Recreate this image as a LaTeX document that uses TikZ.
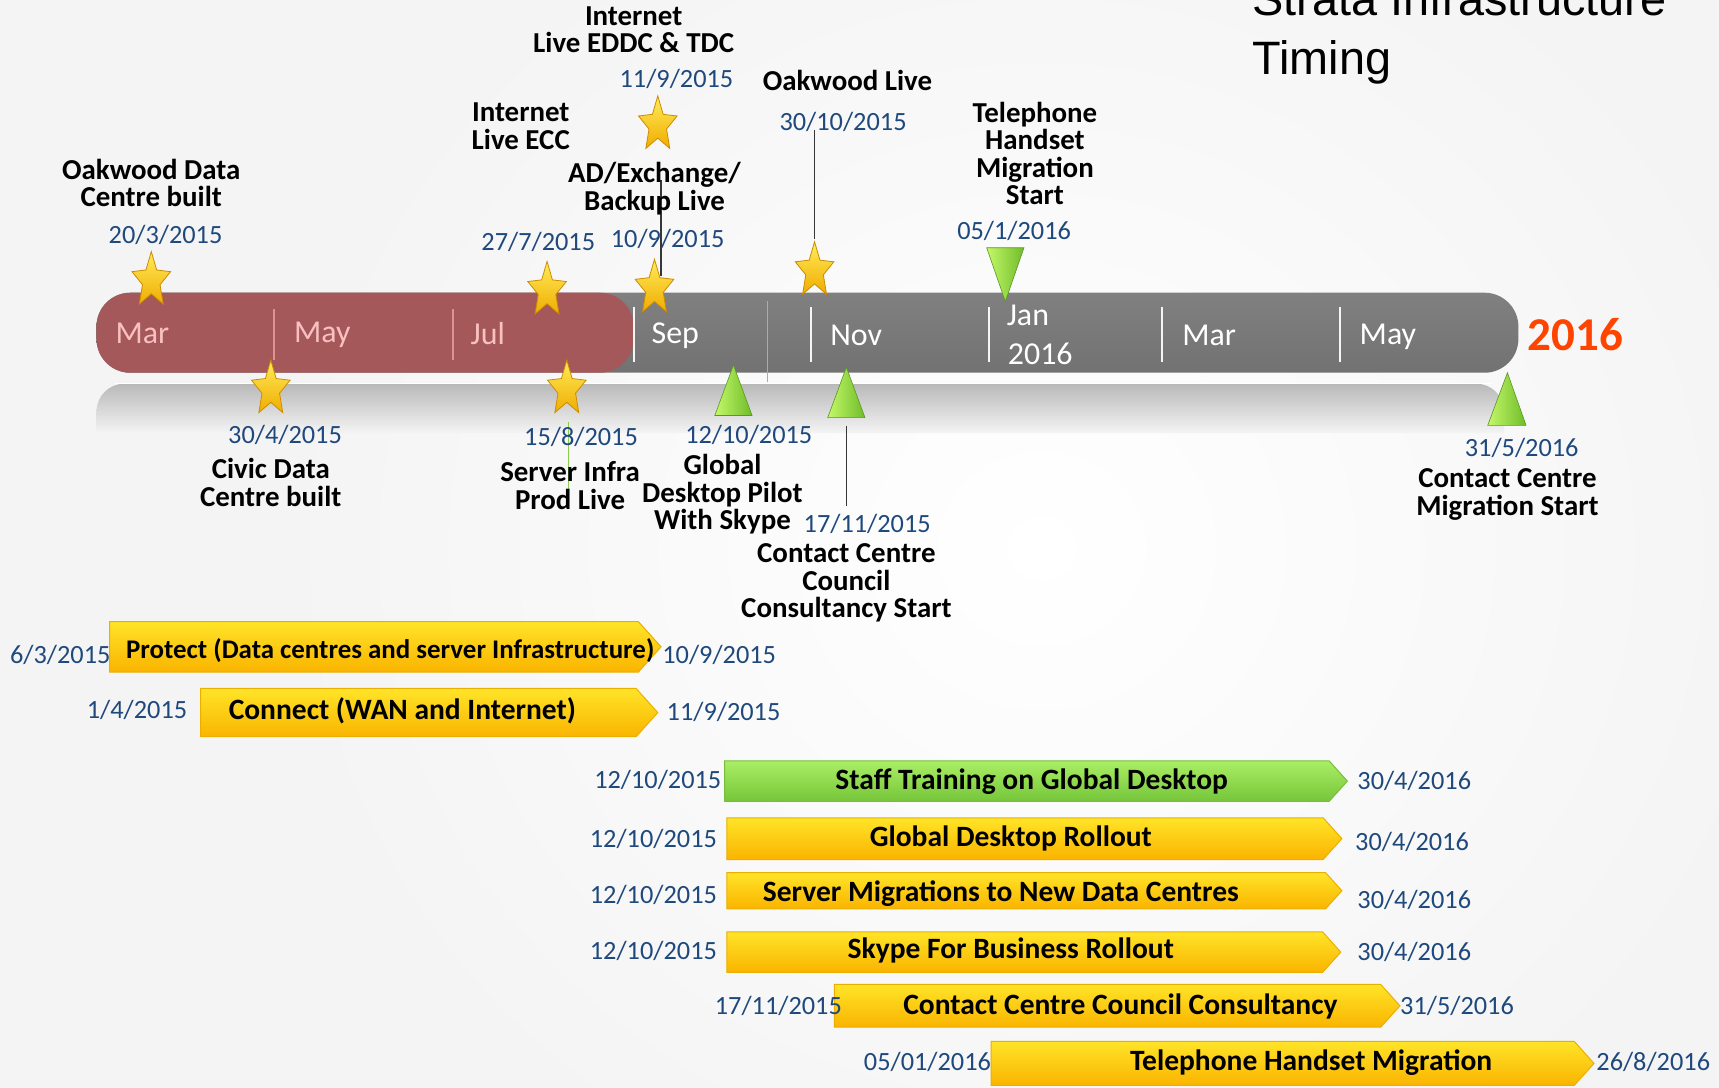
\documentclass[tikz,border=0pt]{standalone}
\usepackage{fontspec}
\setmainfont{Carlito}
\newfontfamily\titlefont{Liberation Sans}
\definecolor{datecol}{RGB}{31,73,125}
\definecolor{bgcol}{RGB}{244,244,244}
\definecolor{redbar}{RGB}{164,88,90}
\definecolor{graybarA}{RGB}{128,128,128}
\definecolor{graybarB}{RGB}{114,114,114}
\definecolor{pinktxt}{RGB}{250,192,192}
\definecolor{pinksep}{RGB}{222,146,146}
\definecolor{yearcol}{RGB}{255,68,0}
\definecolor{starA}{RGB}{255,236,90}
\definecolor{starB}{RGB}{240,172,0}
\definecolor{starE}{RGB}{205,140,0}
\definecolor{triA}{RGB}{195,248,105}
\definecolor{triB}{RGB}{112,188,42}
\definecolor{barYA}{RGB}{255,228,40}
\definecolor{barYB}{RGB}{250,180,0}
\definecolor{barYE}{RGB}{235,175,0}
\definecolor{barGA}{RGB}{170,238,100}
\definecolor{barGB}{RGB}{118,198,58}
\definecolor{barGE}{RGB}{120,190,60}
\definecolor{thinline}{RGB}{55,55,55}
\definecolor{thingreen}{RGB}{140,205,80}
\newcommand\tlbar[5]{%
  \path[#1] (#2,#4) -- ({#3-0.45*(#5-#4)},#4) -- (#3,{(#4+#5)/2}) -- ({#3-0.45*(#5-#4)},#5) -- (#2,#5) -- cycle;}
\tikzset{
  pics/gstar/.style={code={
    \coordinate (-c) at (0,0);
    \coordinate (-t) at (0,-26.5);
    \coordinate (-b) at (0,21.4);
    \shade[top color=starA, bottom color=starB, draw=starE, line width=0.4pt]
      (0,-26.5) -- (4.9,-9.7) -- (17.6,-8.2) -- (8.0,3.7) -- (10.9,21.4) -- (0,12.0)
      -- (-10.9,21.4) -- (-8.0,3.7) -- (-17.6,-8.2) -- (-4.9,-9.7) -- cycle;
  }}
}
\begin{document}
\begin{tikzpicture}[x=0.55pt,y=-0.55pt,
  lbl/.style={font=\bfseries\fontsize{14.5}{13.8}\selectfont, align=center, inner sep=0, text=black},
  dt/.style={font=\fontsize{13.2}{14}\selectfont, text=datecol, inner sep=0},
  mon/.style={font=\fontsize{16}{18}\selectfont, inner sep=0},
  bartxt/.style={font=\bfseries\fontsize{14.8}{16}\selectfont, inner sep=0, text=black},
  ybar/.style={top color=barYA, bottom color=barYB, draw=barYE, line width=0.5pt},
  gbar/.style={top color=barGA, bottom color=barGB, draw=barGE, line width=0.5pt},
  tri/.style={left color=triA, right color=triB, draw=triB!80!black, line width=0.3pt},
  sepw/.style={draw=white!92!gray, line width=0.9pt},
  sepp/.style={draw=pinksep, line width=0.9pt},
  conn/.style={draw=thinline, line width=0.6pt},
  gconn/.style={draw=thingreen, line width=0.5pt}
]
\useasboundingbox (0,0) rectangle (1568,992);
% background
\fill[bgcol] (0,0) rectangle (1568,992);
\shade[inner color=white, outer color=bgcol] (250,-150) rectangle (1650,1150);

% title
\node[font=\titlefont\fontsize{23.5}{30}\selectfont, anchor=base west, inner sep=0] (title1) at (1142,13.7) {Strata Infrastructure};
\node[font=\titlefont\fontsize{23.5}{30}\selectfont, anchor=base west, inner sep=0] (title2) at (1142,68.4) {Timing};

% shadow band under timeline
\shade[top color=gray!55, bottom color=bgcol] (88,395) [rounded corners=14pt]-- (88,350) -- (1372,350) [sharp corners]-- (1372,395) -- cycle;
\draw[white, line width=0.8pt] (105,350) -- (1360,350);

% timeline bar
\shade[top color=graybarA, bottom color=graybarB, rounded corners=17pt] (88,267) rectangle (1385,340);
\fill[redbar, rounded corners=17pt] (88,267) rectangle (578,340);

% separators
\draw[sepp] (250,282) -- (250,328);
\draw[sepp] (413,282) -- (413,328);
\draw[sepw] (578,280) -- (578,330);
\draw[sepw] (740,280) -- (740,330);
\draw[sepw] (902,280) -- (902,330);
\draw[sepw] (1060,280) -- (1060,330);
\draw[sepw] (1222,280) -- (1222,330);
\coordinate (g1a) at (700,275); \coordinate (g1b) at (700,348);
\draw[gconn] (g1a) -- (g1b);

% months
\node[mon, text=pinktxt] (m1) at (130,304) {Mar};
\node[mon, text=pinktxt] (m2) at (294,305) {May};
\node[mon, text=pinktxt] (m3) at (445,304) {Jul};
\node[mon, text=white] (m4) at (616,306) {Sep};
\node[mon, text=white] (m5) at (781,306) {Nov};
\node[mon, text=white, anchor=west] (m6) at (918,288) {Jan};
\node[mon, text=white, anchor=west] (m6b) at (919,323) {2016};
\node[mon, text=white] (m7) at (1103,306) {Mar};
\node[mon, text=white] (m8) at (1266,307) {May};
\node[font=\bfseries\fontsize{23.6}{26}\selectfont, text=yearcol, inner sep=0] (year) at (1437,305) {2016};

% thin connector lines
\coordinate (la1) at (603,164); \coordinate (la2) at (603,252);
\draw[conn] (la1) -- (la2);
\coordinate (lb1) at (743,119); \coordinate (lb2) at (743,218);
\draw[conn] (lb1) -- (lb2);
\coordinate (lc1) at (772,389); \coordinate (lc2) at (772,462);
\draw[conn] (lc1) -- (lc2);
\coordinate (lg1) at (519,385); \coordinate (lg2) at (519,462);
\draw[gconn] (lg1) -- (lg2);

% stars
\pic (s203) at (138,256) {gstar};
\pic (s304) at (247,355) {gstar};
\pic (s277) at (499,265) {gstar};
\pic (s158) at (517,355) {gstar};
\pic (s109) at (597,263) {gstar};
\pic (s119) at (600,114) {gstar};
\pic (s3010) at (743,247) {gstar};

% triangles
\coordinate (t1210) at (669,333);
\shade[tri] (t1210) -- (686,379) -- (652,379) -- cycle;
\coordinate (t1711) at (772,335);
\shade[tri] (t1711) -- (789,381) -- (755,381) -- cycle;
\coordinate (t315) at (1375,340);
\shade[tri] (t315) -- (1392,388) -- (1357,388) -- cycle;
\coordinate (t051) at (917,275);
\shade[tri] (900,226) -- (934,226) -- (t051) -- cycle;

% milestone labels
\node[lbl] (oak) at (138,167) {Oakwood Data\\Centre built};
\node[dt] (d203) at (151,214) {20/3/2015};
\node[dt] (d304) at (260,397) {30/4/2015};
\node[lbl] (civic) at (247,440) {Civic Data\\Centre built};
\node[dt] (d277) at (491,221) {27/7/2015};
\node[lbl] (ecc) at (475,115) {Internet\\Live ECC};
\node[lbl] (eddc) at (578,27) {Internet\\Live EDDC \& TDC};
\node[dt] (d119) at (617,72) {11/9/2015};
\node[lbl] (adex) at (597,172) {AD/Exchange/\\Backup Live};
\node[dt] (d109) at (609,218) {10/9/2015};
\node[lbl] (oaklive) at (773,73) {Oakwood Live};
\node[dt] (d3010) at (769,111) {30/10/2015};
\node[lbl] (tel) at (944,140) {Telephone\\Handset\\Migration\\Start};
\node[dt] (d051) at (925,211) {05/1/2016};
\node[dt] (d158) at (530,399) {15/8/2015};
\node[lbl] (srv) at (520,443) {Server Infra\\Prod Live};
\node[dt] (d1210) at (683,397) {12/10/2015};
\node[lbl] (glob) at (659,451) {Global\\Desktop Pilot\\With Skype};
\node[dt] (d1711) at (791,478) {17/11/2015};
\node[lbl] (cc) at (772,532) {Contact Centre\\Council\\Consultancy Start};
\node[dt] (d315) at (1388,409) {31/5/2016};
\node[lbl] (ccm) at (1375,451) {Contact Centre\\Migration Start};

% bars
\tlbar{ybar}{100}{603}{567}{613}
\node[bartxt, font=\bfseries\fontsize{13.5}{16}\selectfont] (bprot) at (356,593) {Protect (Data centres and server Infrastructure)};
\node[dt] (bprotL) at (55,597) {6/3/2015};
\node[dt] (bprotR) at (656,597) {10/9/2015};

\tlbar{ybar}{183}{600}{628}{672}
\node[bartxt] (bconn) at (367,648) {Connect (WAN and Internet)};
\node[dt] (bconnL) at (125,648) {1/4/2015};
\node[dt] (bconnR) at (660,649) {11/9/2015};

\tlbar{gbar}{661}{1229}{694}{731}
\node[bartxt] (bstaff) at (941,713) {Staff Training on Global Desktop};
\node[dt] (bstaffL) at (600,711) {12/10/2015};
\node[dt] (bstaffR) at (1290,712) {30/4/2016};

\tlbar{ybar}{663}{1224}{746}{784}
\node[bartxt] (bgdr) at (922,765) {Global Desktop Rollout};
\node[dt] (bgdrL) at (596,765) {12/10/2015};
\node[dt] (bgdrR) at (1288,768) {30/4/2016};

\tlbar{ybar}{663}{1224}{796}{829}
\node[bartxt] (bsmig) at (913,815) {Server Migrations to New Data Centres};
\node[dt] (bsmigL) at (596,816) {12/10/2015};
\node[dt] (bsmigR) at (1290,821) {30/4/2016};

\tlbar{ybar}{663}{1223}{850}{887}
\node[bartxt] (bsky) at (922,867) {Skype For Business Rollout};
\node[dt] (bskyL) at (596,867) {12/10/2015};
\node[dt] (bskyR) at (1290,868) {30/4/2016};

\tlbar{ybar}{761}{1277}{898}{937}
\node[bartxt] (bccc) at (1022,918) {Contact Centre Council Consultancy};
\node[dt] (bcccL) at (710,918) {17/11/2015};
\node[dt] (bcccR) at (1329,918) {31/5/2016};

\tlbar{ybar}{904}{1454}{950}{990}
\node[bartxt] (bthm) at (1196,969) {Telephone Handset Migration};
\node[dt] (bthmL) at (846,969) {05/01/2016};
\node[dt] (bthmR) at (1508,969) {26/8/2016};
\end{tikzpicture}
\end{document}
